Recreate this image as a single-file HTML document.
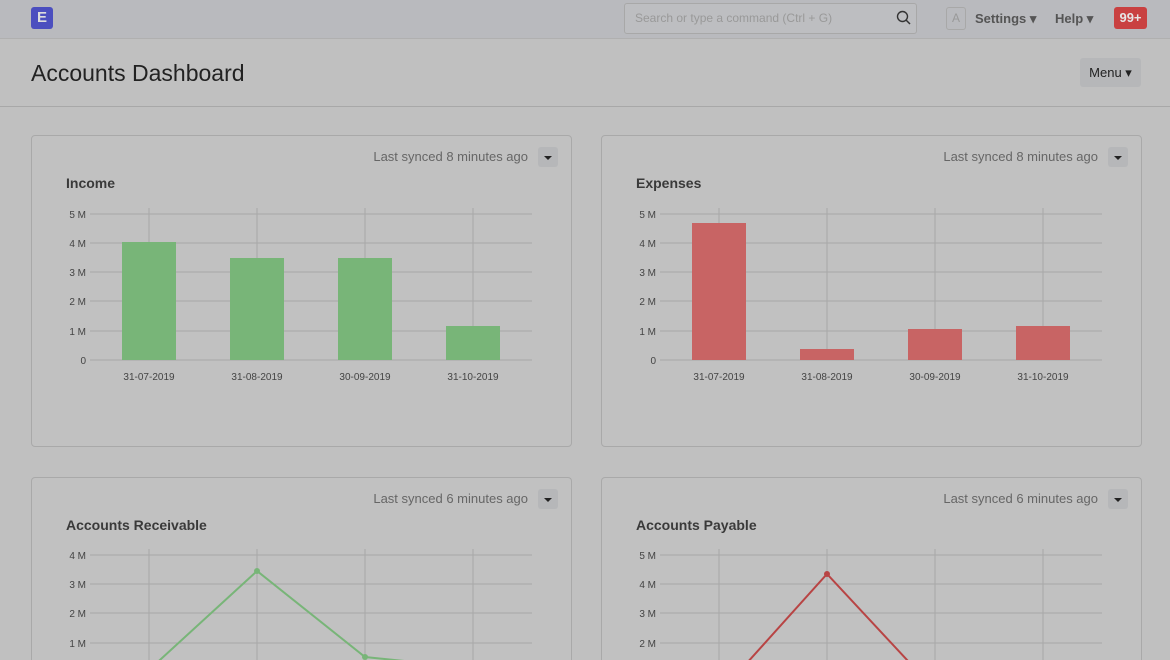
<!DOCTYPE html>
<html style="width:1170px;height:660px;overflow:hidden"><head><style>
body{margin:0;width:1170px;height:660px;overflow:hidden;background:#c0c0c0;font-family:"Liberation Sans",sans-serif;position:relative}
.a{position:absolute}
.card{position:absolute;width:539px;background:#c1c1c1;border:1px solid #a9a9a9;border-radius:4px;height:310px}
.card.b{height:182px;border-bottom:none;border-radius:4px 4px 0 0}
.sync{position:absolute;right:43px;top:13px;font-size:13px;color:#666}
.dd{position:absolute;right:13px;top:11px;width:20px;height:20px;background:#b6b7b9;border-radius:3px}
.dd:after{content:"";position:absolute;left:6px;top:9px;border:4px solid transparent;border-top:4px solid #222;border-bottom:0}
.title{position:absolute;left:34px;top:39px;font-size:14px;font-weight:bold;color:#3a3a3a}
svg text{font-family:"Liberation Sans",sans-serif;font-size:10px;fill:#444}
</style></head><body>
<div class="a" style="left:0;top:0;width:1170px;height:38px;background:#b9babe;border-bottom:1px solid #b0b0b0"></div>
<div class="a" style="left:31px;top:7px;width:22px;height:22px;background:#4c4fbf;border-radius:3px;color:#ddd;font-weight:bold;font-size:15px;text-align:center;line-height:22px">E</div>
<div class="a" style="left:624px;top:3px;width:291px;height:29px;border:1px solid #a8a8a8;border-radius:3px;background:#bdbec1"></div>
<div class="a" style="left:635px;top:11px;font-size:12px;color:#999">Search or type a command (Ctrl + G)</div>
<svg class="a" style="left:896px;top:10px" width="16" height="16"><circle cx="6.5" cy="6.5" r="5" fill="none" stroke="#333" stroke-width="1.4"/><line x1="10" y1="10" x2="14" y2="14" stroke="#333" stroke-width="1.5"/></svg>
<div class="a" style="left:946px;top:7px;width:18px;height:21px;border:1px solid #a8a8a8;border-radius:3px;font-size:12px;color:#999;text-align:center;line-height:21px">A</div>
<div class="a" style="left:975px;top:11px;font-size:13px;font-weight:bold;color:#555">Settings ▾</div>
<div class="a" style="left:1055px;top:11px;font-size:13px;font-weight:bold;color:#555">Help ▾</div>
<div class="a" style="left:1114px;top:7px;width:33px;height:22px;background:#c94141;border-radius:3px;color:#e6e6e6;font-size:13px;font-weight:bold;text-align:center;line-height:22px">99+</div>
<div class="a" style="left:31px;top:60px;font-size:23px;color:#222">Accounts Dashboard</div>
<div class="a" style="left:1080px;top:58px;width:61px;height:29px;background:#b6b7b9;border-radius:3px;font-size:13px;color:#222;text-align:center;line-height:29px">Menu ▾</div>
<div class="a" style="left:0;top:106px;width:1170px;height:1px;background:#a8a8a8"></div>

<div class="card" style="left:31px;top:135px"><div class="sync">Last synced 8 minutes ago</div><div class="dd"></div><div class="title">Income</div></div>
<div class="card" style="left:601px;top:135px"><div class="sync">Last synced 8 minutes ago</div><div class="dd"></div><div class="title">Expenses</div></div>
<div class="card b" style="left:31px;top:477px"><div class="sync">Last synced 6 minutes ago</div><div class="dd"></div><div class="title">Accounts Receivable</div></div>
<div class="card b" style="left:601px;top:477px"><div class="sync">Last synced 6 minutes ago</div><div class="dd"></div><div class="title">Accounts Payable</div></div>

<svg class="a" style="left:0;top:0;overflow:hidden" width="1170" height="660">
<g stroke="#a8a8a8" stroke-width="1">
<line x1="90" y1="214" x2="532" y2="214"/><line x1="90" y1="243" x2="532" y2="243"/><line x1="90" y1="272" x2="532" y2="272"/><line x1="90" y1="301" x2="532" y2="301"/><line x1="90" y1="331" x2="532" y2="331"/><line x1="90" y1="360" x2="532" y2="360"/>
<line x1="149" y1="208" x2="149" y2="360"/><line x1="257" y1="208" x2="257" y2="360"/><line x1="365" y1="208" x2="365" y2="360"/><line x1="473" y1="208" x2="473" y2="360"/>
<line x1="660" y1="214" x2="1102" y2="214"/><line x1="660" y1="243" x2="1102" y2="243"/><line x1="660" y1="272" x2="1102" y2="272"/><line x1="660" y1="301" x2="1102" y2="301"/><line x1="660" y1="331" x2="1102" y2="331"/><line x1="660" y1="360" x2="1102" y2="360"/>
<line x1="719" y1="208" x2="719" y2="360"/><line x1="827" y1="208" x2="827" y2="360"/><line x1="935" y1="208" x2="935" y2="360"/><line x1="1043" y1="208" x2="1043" y2="360"/>
<line x1="90" y1="555" x2="532" y2="555"/><line x1="90" y1="584" x2="532" y2="584"/><line x1="90" y1="613" x2="532" y2="613"/><line x1="90" y1="643" x2="532" y2="643"/>
<line x1="149" y1="549" x2="149" y2="660"/><line x1="257" y1="549" x2="257" y2="660"/><line x1="365" y1="549" x2="365" y2="660"/><line x1="473" y1="549" x2="473" y2="660"/>
<line x1="660" y1="555" x2="1102" y2="555"/><line x1="660" y1="584" x2="1102" y2="584"/><line x1="660" y1="613" x2="1102" y2="613"/><line x1="660" y1="643" x2="1102" y2="643"/>
<line x1="719" y1="549" x2="719" y2="660"/><line x1="827" y1="549" x2="827" y2="660"/><line x1="935" y1="549" x2="935" y2="660"/><line x1="1043" y1="549" x2="1043" y2="660"/>
</g>
<g text-anchor="end">
<text x="86" y="218">5 M</text><text x="86" y="247">4 M</text><text x="86" y="276">3 M</text><text x="86" y="305">2 M</text><text x="86" y="335">1 M</text><text x="86" y="364">0</text>
<text x="656" y="218">5 M</text><text x="656" y="247">4 M</text><text x="656" y="276">3 M</text><text x="656" y="305">2 M</text><text x="656" y="335">1 M</text><text x="656" y="364">0</text>
<text x="86" y="559">4 M</text><text x="86" y="588">3 M</text><text x="86" y="617">2 M</text><text x="86" y="647">1 M</text>
<text x="656" y="559">5 M</text><text x="656" y="588">4 M</text><text x="656" y="617">3 M</text><text x="656" y="647">2 M</text>
</g>
<g text-anchor="middle">
<text x="149" y="380">31-07-2019</text><text x="257" y="380">31-08-2019</text><text x="365" y="380">30-09-2019</text><text x="473" y="380">31-10-2019</text>
<text x="719" y="380">31-07-2019</text><text x="827" y="380">31-08-2019</text><text x="935" y="380">30-09-2019</text><text x="1043" y="380">31-10-2019</text>
</g>
<g fill="#78b578">
<rect x="122" y="242" width="54" height="118"/><rect x="230" y="258" width="54" height="102"/><rect x="338" y="258" width="54" height="102"/><rect x="446" y="326" width="54" height="34"/>
</g>
<g fill="#c86464">
<rect x="692" y="223" width="54" height="137"/><rect x="800" y="349" width="54" height="11"/><rect x="908" y="329" width="54" height="31"/><rect x="1016" y="326" width="54" height="34"/>
</g>
<polyline points="149,670 257,571 365,657 473,668" fill="none" stroke="#78b578" stroke-width="2"/>
<circle cx="257" cy="571" r="3" fill="#78b578"/><circle cx="365" cy="657" r="3" fill="#78b578"/>
<polyline points="719,694 827,574 935,690" fill="none" stroke="#b84444" stroke-width="2"/>
<circle cx="827" cy="574" r="3" fill="#b84444"/>
</svg>
</body></html>
